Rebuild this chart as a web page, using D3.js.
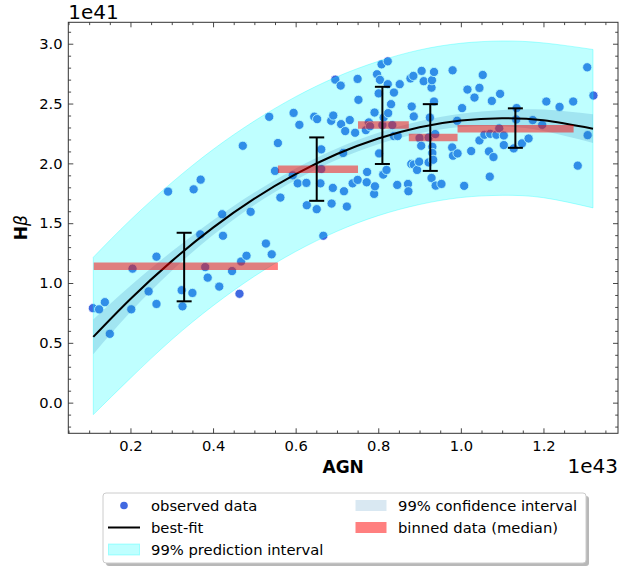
<!DOCTYPE html>
<html><head><meta charset="utf-8">
<script src="https://cdn.jsdelivr.net/npm/d3@7/dist/d3.min.js"></script>
<style>body{margin:0;background:#fff} text{font-family:"DejaVu Sans",sans-serif;fill:#000}</style>
</head><body><svg id="c" width="643" height="568"></svg>
<script>
// observed data (x in 1e43, y in 1e41)
const obsX = [0.109,0.124,0.138,0.150,0.202,0.205,0.244,0.263,0.263,0.291,0.324,0.326,0.350,0.353,0.369,0.370,0.381,0.387,0.415,0.422,0.424,0.446,0.464,0.468,0.472,0.481,0.491,0.528,0.536,0.542,0.550,0.557,0.563,0.593,0.595,0.605,0.609,0.626,0.627,0.645,0.652,0.651,0.660,0.662,0.662,0.667,0.686,0.687,0.690,0.691,0.696,0.709,0.710,0.715,0.717,0.720,0.724,0.731,0.738,0.744,0.750,0.750,0.752,
0.770,0.772,0.773,0.777,0.780,0.790,0.791,0.792,0.797,0.801,0.802,0.804,0.808,0.810,0.812,0.813,0.820,0.823,0.823,0.824,0.831,0.834,0.838,0.838,0.846,0.847,0.852,0.872,0.873,0.878,0.880,0.881,0.885,0.886,0.886,0.894,0.899,0.900,0.904,0.905,0.910,0.922,0.922,0.925,0.929,0.929,0.930,0.931,0.931,0.933,0.935,0.935,0.938,0.939,0.953,0.979,0.980,0.981,0.991,0.992,
1.003,1.008,1.016,1.025,1.033,1.045,1.045,1.053,1.057,1.068,1.070,1.071,1.075,1.079,1.086,1.093,1.095,1.104,1.104,1.128,1.134,1.135,1.148,1.164,1.174,1.197,1.207,1.239,1.272,1.283,1.306,1.307,1.321];
const obsY = [0.79,0.78,0.84,0.575,0.78,1.12,0.93,1.22,0.825,1.764,0.94,0.805,0.917,1.783,1.406,1.864,1.133,1.045,0.97,1.575,1.395,1.10,0.91,1.18,2.147,1.228,1.595,1.33,2.389,1.24,1.937,2.17,1.714,1.90,2.422,1.833,2.322,1.837,1.65,2.39,2.37,1.617,1.833,2.117,1.953,1.395,2.356,1.664,1.795,2.40,2.70,2.65,2.328,2.087,1.767,2.27,1.639,2.362,1.833,2.256,1.862,2.706,2.531,
2.278,1.842,1.928,2.342,2.31,1.745,2.425,1.808,2.745,2.585,2.083,2.698,2.828,2.32,1.906,2.383,1.945,2.853,2.662,2.42,2.495,2.32,2.592,2.228,1.82,2.228,2.662,1.828,1.767,2.71,1.995,2.475,2.731,2.392,1.99,1.945,2.014,2.212,2.147,2.773,2.687,2.217,2.008,2.383,2.633,1.878,2.695,2.139,2.087,2.03,2.764,2.517,2.245,1.814,1.828,2.133,2.778,2.064,2.356,2.083,
2.462,1.812,2.617,2.103,2.55,2.631,2.192,2.739,2.239,2.10,1.889,2.247,2.522,2.053,2.239,2.292,2.581,2.233,2.153,2.125,2.367,2.462,2.167,2.208,2.362,2.322,2.517,2.472,2.517,1.981,2.803,2.236,2.567];

// best-fit curve and intervals, sampled
const fitX    = [0.11,0.2,0.3,0.4,0.5,0.6,0.7,0.8,0.9,1.0,1.1,1.2,1.32];
const fitY    = [0.550,0.867,1.183,1.463,1.705,1.910,2.078,2.208,2.302,2.359,2.378,2.360,2.290];
const piUpper = [1.215,1.527,1.839,2.116,2.354,2.557,2.724,2.853,2.948,3.004,3.023,3.007,2.952];
const piLower = [-0.100,0.205,0.527,0.810,1.056,1.263,1.432,1.563,1.656,1.714,1.733,1.713,1.628];
const ciUpper = [0.695,0.977,1.263,1.525,1.757,1.958,2.125,2.256,2.352,2.414,2.446,2.450,2.410];
const ciLower = [0.405,0.757,1.103,1.401,1.653,1.862,2.031,2.160,2.252,2.304,2.310,2.270,2.170];

// binned data (median)
const binStart  = [0.111,0.557,0.751,0.874,0.992];
const binEnd    = [0.557,0.751,0.874,0.992,1.273];
const binMedian = [1.14,1.95,2.32,2.217,2.29];
// error bars
const errX    = [0.330,0.651,0.810,0.926,1.132];
const errLow  = [0.847,1.687,1.995,1.937,2.130];
const errHigh = [1.420,2.217,2.640,2.495,2.460];

const xTicks = [0.2,0.4,0.6,0.8,1.0,1.2];
const yTicks = [0.0,0.5,1.0,1.5,2.0,2.5,3.0];

const svg = d3.select('#c');
const L = 68.3, R = 618, T = 22.3, B = 433.3;

const xe = [d3.min(fitX), d3.max(fitX)], xp = (xe[1]-xe[0])*0.05;
const ye = [d3.min(piLower), d3.max(piUpper)], yp = (ye[1]-ye[0])*0.05;
const x = d3.scaleLinear().domain([xe[0]-xp, xe[1]+xp]).range([L, R]);
const y = d3.scaleLinear().domain([ye[0]-yp, ye[1]+yp]).range([B, T]);

const g = svg.append('g');
// scatter
g.selectAll('circle.obs').data(obsX.map((v,i)=>[v,obsY[i]])).join('circle')
  .attr('class','obs').attr('cx',d=>x(d[0])).attr('cy',d=>y(d[1])).attr('r',4.6)
  .attr('fill','#4169e1').attr('stroke','#fff').attr('stroke-width',0.8);

const idx = d3.range(fitX.length);
const area = (lo, hi) => d3.area().x(i=>x(fitX[i])).y0(i=>y(lo[i])).y1(i=>y(hi[i])).curve(d3.curveNatural);
g.append('path').datum(idx).attr('d', area(piLower,piUpper))
  .attr('fill','cyan').attr('fill-opacity',0.25).attr('stroke','cyan').attr('stroke-opacity',0.3).attr('stroke-width',1);
g.append('path').datum(idx).attr('d', area(ciLower,ciUpper))
  .attr('fill','#1f77b4').attr('fill-opacity',0.19);
g.append('path').datum(idx).attr('d', d3.line().x(i=>x(fitX[i])).y(i=>y(fitY[i])).curve(d3.curveNatural)(idx))
  .attr('fill','none').attr('stroke','#000').attr('stroke-width',2);

// binned bars
g.selectAll('line.bin').data(binStart.map((s,i)=>i)).join('line').attr('class','bin')
  .attr('x1',i=>x(binStart[i])).attr('x2',i=>x(binEnd[i]))
  .attr('y1',i=>y(binMedian[i])).attr('y2',i=>y(binMedian[i]))
  .attr('stroke','red').attr('stroke-opacity',0.5).attr('stroke-width',7.5);

// error bars
const eb = g.selectAll('g.eb').data(errX.map((v,i)=>i)).join('g').attr('class','eb');
eb.append('line').attr('x1',i=>x(errX[i])).attr('x2',i=>x(errX[i]))
  .attr('y1',i=>y(errLow[i])).attr('y2',i=>y(errHigh[i])).attr('stroke','#000').attr('stroke-width',2);
[errLow, errHigh].forEach(arr=>{
  eb.append('line').attr('x1',i=>x(errX[i])-7.5).attr('x2',i=>x(errX[i])+7.5)
    .attr('y1',i=>y(arr[i])).attr('y2',i=>y(arr[i])).attr('stroke','#000').attr('stroke-width',2);
});

// axes
const axCol = '#333';
const tf = '14.7px';
const xMinor = d3.range(0.05, 1.4, 0.05).filter(v=>v>=x.domain()[0]&&v<=x.domain()[1]&&!xTicks.some(t=>Math.abs(t-v)<1e-6));
const yMinor = d3.range(-0.2, 3.2, 0.1).filter(v=>v>=y.domain()[0]&&v<=y.domain()[1]&&!yTicks.some(t=>Math.abs(t-v)<1e-6));
function styleAx(sel){ sel.select('.domain').remove(); sel.selectAll('line').attr('stroke',axCol).attr('stroke-width',0.9);
  sel.selectAll('text').attr('font-size',tf).attr('font-family','DejaVu Sans').attr('fill','#000'); }
const fmt = d3.format('.1f');
svg.append('g').attr('transform',`translate(0,${B})`).call(d3.axisBottom(x).tickValues(xTicks).tickFormat(fmt).tickSize(-5).tickSizeOuter(0).tickPadding(7.3)).call(styleAx);
svg.append('g').attr('transform',`translate(0,${B})`).call(d3.axisBottom(x).tickValues(xMinor).tickFormat('').tickSize(-2.8).tickSizeOuter(0)).call(styleAx);
svg.append('g').attr('transform',`translate(0,${T})`).call(d3.axisTop(x).tickValues(xTicks).tickFormat('').tickSize(-5).tickSizeOuter(0)).call(styleAx);
svg.append('g').attr('transform',`translate(0,${T})`).call(d3.axisTop(x).tickValues(xMinor).tickFormat('').tickSize(-2.8).tickSizeOuter(0)).call(styleAx);
svg.append('g').attr('transform',`translate(${L},0)`).call(d3.axisLeft(y).tickValues(yTicks).tickFormat(fmt).tickSize(-5).tickSizeOuter(0).tickPadding(5.8)).call(styleAx);
svg.append('g').attr('transform',`translate(${L},0)`).call(d3.axisLeft(y).tickValues(yMinor).tickFormat('').tickSize(-2.8).tickSizeOuter(0)).call(styleAx);
svg.append('g').attr('transform',`translate(${R},0)`).call(d3.axisRight(y).tickValues(yTicks).tickFormat('').tickSize(-5).tickSizeOuter(0)).call(styleAx);
svg.append('g').attr('transform',`translate(${R},0)`).call(d3.axisRight(y).tickValues(yMinor).tickFormat('').tickSize(-2.8).tickSizeOuter(0)).call(styleAx);
svg.append('rect').attr('x',L).attr('y',T).attr('width',R-L).attr('height',B-T).attr('fill','none').attr('stroke',axCol).attr('stroke-width',1);

// offset texts and labels
svg.append('text').attr('x',L).attr('y',18.5).attr('font-size','20px').text('1e41');
svg.append('text').attr('x',R).attr('y',473).attr('text-anchor','end').attr('font-size','20px').text('1e43');
svg.append('text').attr('x',(L+R)/2).attr('y',472.5).attr('text-anchor','middle').attr('font-size','17px').attr('font-weight','bold').text('AGN');
const yl = svg.append('text').attr('transform',`translate(27,${(T+B)/2}) rotate(-90)`).attr('text-anchor','middle').attr('font-size','17px');
yl.append('tspan').attr('font-weight','bold').text('H');
yl.append('tspan').attr('font-style','italic').text('β');

// legend
const lg = svg.append('g');
lg.append('rect').attr('x',106).attr('y',496).attr('width',483).attr('height',70).attr('rx',3).attr('fill','#888').attr('opacity',0.6);
lg.append('rect').attr('x',103).attr('y',493).attr('width',483).attr('height',70).attr('rx',3).attr('fill','#fff').attr('stroke','#ccc').attr('stroke-width',1);
const lf = '14.75px';
const rows = [505.5, 527.5, 549.5];
lg.append('circle').attr('cx',124).attr('cy',rows[0]).attr('r',3.8).attr('fill','#4169e1');
lg.append('text').attr('x',151).attr('y',rows[0]+5).attr('font-size',lf).text('observed data');
lg.append('line').attr('x1',108).attr('x2',140).attr('y1',rows[1]).attr('y2',rows[1]).attr('stroke','#000').attr('stroke-width',2);
lg.append('text').attr('x',151).attr('y',rows[1]+5).attr('font-size',lf).text('best-fit');
lg.append('rect').attr('x',108.5).attr('y',rows[2]-5.5).attr('width',31).attr('height',11).attr('fill','cyan').attr('fill-opacity',0.25).attr('stroke','cyan').attr('stroke-opacity',0.3);
lg.append('text').attr('x',151).attr('y',rows[2]+5).attr('font-size',lf).text('99% prediction interval');
lg.append('rect').attr('x',355.5).attr('y',rows[0]-5.5).attr('width',31).attr('height',11).attr('fill','#1f77b4').attr('fill-opacity',0.17);
lg.append('text').attr('x',398).attr('y',rows[0]+5).attr('font-size',lf).text('99% confidence interval');
lg.append('rect').attr('x',355.5).attr('y',rows[1]-5.5).attr('width',31).attr('height',11).attr('fill','red').attr('fill-opacity',0.5);
lg.append('text').attr('x',398).attr('y',rows[1]+5).attr('font-size',lf).text('binned data (median)');
</script></body></html>
